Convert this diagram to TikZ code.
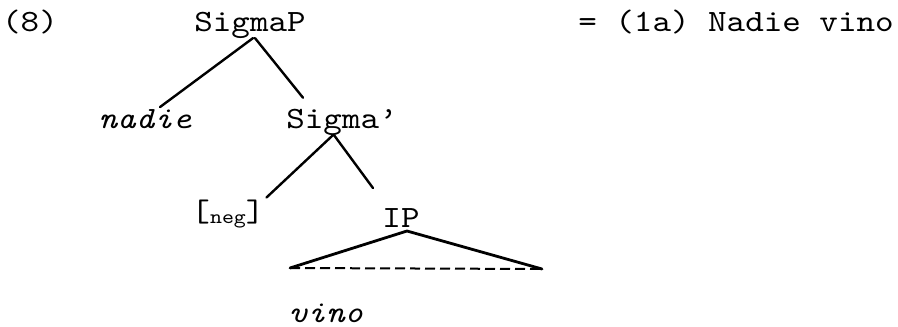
\documentclass[tikz,border=0pt]{standalone}
\usepackage{fontspec}
\setmainfont{lmmono10-regular.otf}[ItalicFont=lmmono10-italic.otf,FakeStretch=1.14]
\begin{document}
\begin{tikzpicture}[x=1pt,y=-1pt,
  lbl/.style={inner sep=0pt,outer sep=0pt,font=\fontsize{31}{36}\selectfont,anchor=base},
  ilbl/.style={lbl,font=\fontsize{31}{36}\selectfont\itshape},
  branch/.style={line width=2.4pt,line cap=round},
  roof/.style={line width=2.8pt,line cap=round,line join=round},
  base/.style={line width=2pt,dash pattern=on 10pt off 5pt}]
\useasboundingbox (0,0) rectangle (898,327);
\node[lbl] (ex) at (30,31) {(8)};
\node[lbl] (sigmap) at (250,31) {SigmaP};
\node[lbl] (eq) at (736,31) {= (1a) Nadie vino};
\node[ilbl] (nadie) at (145,128) {nadie};
\node[lbl] (sigmabar) at (342,128) {Sigma’};
\node[lbl] (neg) at (228,221) {[\raisebox{-2pt}{\fontsize{20}{22}\selectfont neg}]};
\node[lbl] (ip) at (401,227) {IP};
\node[ilbl] (vino) at (326,322) {vino};
\coordinate (tl) at (290,268);
\coordinate (tr) at (542,269);
\draw[branch] ([xshift=3pt]sigmap.south) -- ([shift={(15,-2)}]nadie.north);
\draw[branch] ([xshift=5pt]sigmap.south) -- ([shift={(-39,-11)}]sigmabar.north);
\draw[branch] ([xshift=-9pt]sigmabar.south) -- ([shift={(2,-2)}]neg.north east);
\draw[branch] ([xshift=-8pt]sigmabar.south) -- ([shift={(-28,-20)}]ip.north);
\draw[roof] (tl) -- ([shift={(6,4)}]ip.south) -- (tr);
\draw[base] (tl) -- (tr);
\end{tikzpicture}
\end{document}
